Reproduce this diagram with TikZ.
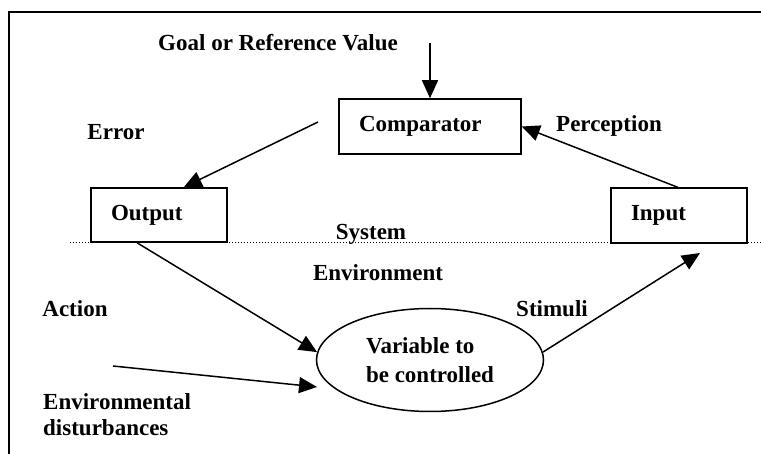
\documentclass[tikz,border=0pt]{standalone}
\usepackage{fontspec}
\setmainfont{Liberation Serif}
\usetikzlibrary{arrows.meta,shapes.geometric,calc}
\begin{document}
\begin{tikzpicture}[x=1pt,y=-1pt,
  font=\bfseries\fontsize{23}{29}\selectfont,
  box/.style={draw, line width=1.5pt, fill=white, minimum height=55pt,
    inner xsep=20pt, inner ysep=0pt, align=left},
  lbl/.style={inner sep=0pt, text height=15pt, text depth=5pt},
  arr/.style={line width=1.5pt, -{Triangle[length=18pt,width=16pt]}},
  frame/.style={line width=2pt},
  sysline/.style={line width=1pt, dash pattern=on 1pt off 2pt}]
\useasboundingbox (0,0) rectangle (761,454);
% frame
\coordinate (fbl) at (9,454);
\coordinate (ftl) at (9,12);
\coordinate (ftr) at (761,12);
\draw[frame] (fbl) -- (ftl) -- (ftr);
% system boundary
\coordinate (sysl) at (70,243);
\coordinate (sysr) at (761,243);
\draw[sysline] (sysl) -- (sysr);
% boxes
\node[box, text width=142pt] (comp) at (430,126.5) {Comparator};
\node[box, text width=96pt, minimum height=54pt] (out) at (159,215) {Output};
\node[box, text width=96pt] (inp) at (679,215.5) {Input};
\node[draw, ellipse, line width=1.5pt, minimum width=227pt, minimum height=103pt,
  inner sep=0pt, align=left] (var) at (430,360) {Variable to\\be controlled};
% labels
\node[lbl] (goal) at (278,46) {Goal or Reference Value};
\node[lbl] (err) at (116,135) {Error};
\node[lbl] (perc) at (609,127) {Perception};
\node[lbl] (sys) at (371,235) {System};
\node[lbl] (env) at (378,276) {Environment};
\node[lbl] (act) at (75,312) {Action};
\node[lbl] (stim) at (552,312) {Stimuli};
\node[inner sep=0pt, anchor=west, align=left,
  font=\bfseries\fontsize{23}{26}\selectfont] (dist) at (43,415) {Environmental\\disturbances};
% connectors
\coordinate (goalstart) at (430,43);
\draw[arr] (goalstart) -- (comp.north);
\coordinate (errstart) at (318,122);
\draw[arr] (errstart) -- ($(out.north west)!0.68!(out.north east)$);
\draw[arr] ($(inp.north west)!0.49!(inp.north east)$) -- (comp.east);
\draw[arr] ($(out.south west)!0.34!(out.south east)$) -- (var.176);
\coordinate (diststart) at (113,366);
\coordinate (distend) at (317,387);
\draw[arr] (diststart) -- (distend);
\coordinate (stimend) at (700,253);
\draw[arr] (var.4) -- (stimend);
\end{tikzpicture}
\end{document}
